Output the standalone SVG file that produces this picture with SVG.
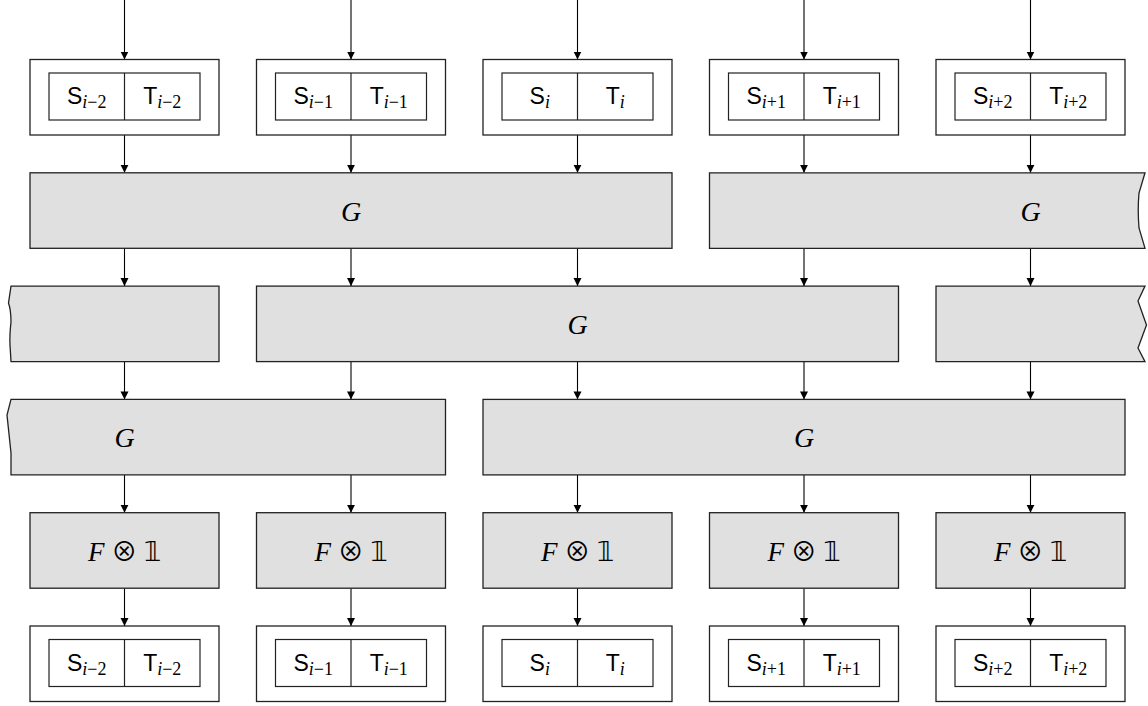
<svg xmlns="http://www.w3.org/2000/svg" width="1148" height="706" viewBox="0 0 1148 706">
<style>
.out{fill:#fff;stroke:#222;stroke-width:1.3}
.in{fill:#fff;stroke:#222;stroke-width:1.2}
.g{fill:#e0e0e0;stroke:#222;stroke-width:1.3}
.st{font-family:"Liberation Sans",sans-serif;font-size:23px;fill:#000;text-anchor:middle}
.sub{font-family:"Liberation Serif",serif;font-size:18px}
.si{font-style:italic}
.m{font-family:"Liberation Serif",serif;font-style:italic;font-size:28px;fill:#000;text-anchor:middle}
.m2{font-family:"Liberation Serif",serif;font-size:27px;fill:#000;text-anchor:middle}
.ot{font-family:"Noto Sans CJK SC",sans-serif;font-size:26px}
.one{font-family:"DejaVu Sans",sans-serif;font-size:27px}
.ar{stroke:#000;stroke-width:1.1;fill:none;marker-end:url(#ah)}
</style>
<defs>
<marker id="ah" markerWidth="8" markerHeight="10" refX="8" refY="4" orient="auto" markerUnits="userSpaceOnUse">
<path d="M0,0 L8,4 L0,8 Z" fill="#000"/>
</marker>
</defs>
<g id="connectors">
<line class="ar" x1="124.5" y1="0" x2="124.5" y2="59.5"/>
<line class="ar" x1="351" y1="0" x2="351" y2="59.5"/>
<line class="ar" x1="577.5" y1="0" x2="577.5" y2="59.5"/>
<line class="ar" x1="804" y1="0" x2="804" y2="59.5"/>
<line class="ar" x1="1030.5" y1="0" x2="1030.5" y2="59.5"/>
<line class="ar" x1="124.5" y1="135" x2="124.5" y2="172.8"/>
<line class="ar" x1="351" y1="135" x2="351" y2="172.8"/>
<line class="ar" x1="577.5" y1="135" x2="577.5" y2="172.8"/>
<line class="ar" x1="804" y1="135" x2="804" y2="172.8"/>
<line class="ar" x1="1030.5" y1="135" x2="1030.5" y2="172.8"/>
<line class="ar" x1="124.5" y1="248.3" x2="124.5" y2="286.1"/>
<line class="ar" x1="351" y1="248.3" x2="351" y2="286.1"/>
<line class="ar" x1="577.5" y1="248.3" x2="577.5" y2="286.1"/>
<line class="ar" x1="804" y1="248.3" x2="804" y2="286.1"/>
<line class="ar" x1="1030.5" y1="248.3" x2="1030.5" y2="286.1"/>
<line class="ar" x1="124.5" y1="361.6" x2="124.5" y2="399.4"/>
<line class="ar" x1="351" y1="361.6" x2="351" y2="399.4"/>
<line class="ar" x1="577.5" y1="361.6" x2="577.5" y2="399.4"/>
<line class="ar" x1="804" y1="361.6" x2="804" y2="399.4"/>
<line class="ar" x1="1030.5" y1="361.6" x2="1030.5" y2="399.4"/>
<line class="ar" x1="124.5" y1="474.9" x2="124.5" y2="512.7"/>
<line class="ar" x1="351" y1="474.9" x2="351" y2="512.7"/>
<line class="ar" x1="577.5" y1="474.9" x2="577.5" y2="512.7"/>
<line class="ar" x1="804" y1="474.9" x2="804" y2="512.7"/>
<line class="ar" x1="1030.5" y1="474.9" x2="1030.5" y2="512.7"/>
<line class="ar" x1="124.5" y1="588.2" x2="124.5" y2="626"/>
<line class="ar" x1="351" y1="588.2" x2="351" y2="626"/>
<line class="ar" x1="577.5" y1="588.2" x2="577.5" y2="626"/>
<line class="ar" x1="804" y1="588.2" x2="804" y2="626"/>
<line class="ar" x1="1030.5" y1="588.2" x2="1030.5" y2="626"/>
</g>
<!-- top state boxes -->
<g id="top0"><rect class="out" x="30" y="59.5" width="189" height="75.5"/><rect class="in" x="49" y="73" width="151" height="47"/><line class="in" x1="124.5" y1="73" x2="124.5" y2="120"/>
<text class="st" x="86.75" y="104">S<tspan class="sub si" dy="4">i</tspan><tspan class="sub">−2</tspan></text>
<text class="st" x="162.25" y="104">T<tspan class="sub si" dy="4">i</tspan><tspan class="sub">−2</tspan></text></g>
<g id="top1"><rect class="out" x="256.5" y="59.5" width="189" height="75.5"/><rect class="in" x="275.5" y="73" width="151" height="47"/><line class="in" x1="351" y1="73" x2="351" y2="120"/>
<text class="st" x="313.25" y="104">S<tspan class="sub si" dy="4">i</tspan><tspan class="sub">−1</tspan></text>
<text class="st" x="388.75" y="104">T<tspan class="sub si" dy="4">i</tspan><tspan class="sub">−1</tspan></text></g>
<g id="top2"><rect class="out" x="483" y="59.5" width="189" height="75.5"/><rect class="in" x="502" y="73" width="151" height="47"/><line class="in" x1="577.5" y1="73" x2="577.5" y2="120"/>
<text class="st" x="539.75" y="104">S<tspan class="sub si" dy="4">i</tspan></text>
<text class="st" x="615.25" y="104">T<tspan class="sub si" dy="4">i</tspan></text></g>
<g id="top3"><rect class="out" x="709.5" y="59.5" width="189" height="75.5"/><rect class="in" x="728.5" y="73" width="151" height="47"/><line class="in" x1="804" y1="73" x2="804" y2="120"/>
<text class="st" x="766.25" y="104">S<tspan class="sub si" dy="4">i</tspan><tspan class="sub">+1</tspan></text>
<text class="st" x="841.75" y="104">T<tspan class="sub si" dy="4">i</tspan><tspan class="sub">+1</tspan></text></g>
<g id="top4"><rect class="out" x="936" y="59.5" width="189" height="75.5"/><rect class="in" x="955" y="73" width="151" height="47"/><line class="in" x1="1030.5" y1="73" x2="1030.5" y2="120"/>
<text class="st" x="992.75" y="104">S<tspan class="sub si" dy="4">i</tspan><tspan class="sub">+2</tspan></text>
<text class="st" x="1068.25" y="104">T<tspan class="sub si" dy="4">i</tspan><tspan class="sub">+2</tspan></text></g>
<!-- row 1 G -->
<g id="g1a"><rect class="g" x="30" y="172.8" width="642" height="75.5"/><text class="m" x="351" y="221">G</text></g>
<g id="g1b"><path class="g" d="M709.5,172.8 H1145 L1139,193 Q1137.5,210 1139,228 L1145,248.3 H709.5 Z"/><text class="m" x="1030.5" y="221">G</text></g>
<!-- row 2 G -->
<g id="g2a"><path class="g" d="M11,286.1 H219 V361.6 H11 L10,345 Q9.5,335 11,322 Q11,310 8.5,303 Z"/></g>
<g id="g2b"><rect class="g" x="256.5" y="286.1" width="642" height="75.5"/><text class="m" x="577.5" y="334">G</text></g>
<g id="g2c"><path class="g" d="M936,286.1 H1145 L1138,301 L1146.5,325 L1138,348 L1145,361.6 H936 Z"/></g>
<!-- row 3 G -->
<g id="g3a"><path class="g" d="M11,399.4 H445.5 V474.9 H11 L11,453 L7,415 Z"/><text class="m" x="124.5" y="447">G</text></g>
<g id="g3b"><rect class="g" x="483" y="399.4" width="642" height="75.5"/><text class="m" x="804" y="447">G</text></g>
<!-- F x 1 row -->
<g id="f0"><rect class="g" x="30" y="512.7" width="189" height="75.5"/><text class="m2" x="124.5" y="561"><tspan font-style="italic">F</tspan> <tspan class="ot">⊗</tspan> <tspan class="one">𝟙</tspan></text></g>
<g id="f1"><rect class="g" x="256.5" y="512.7" width="189" height="75.5"/><text class="m2" x="351" y="561"><tspan font-style="italic">F</tspan> <tspan class="ot">⊗</tspan> <tspan class="one">𝟙</tspan></text></g>
<g id="f2"><rect class="g" x="483" y="512.7" width="189" height="75.5"/><text class="m2" x="577.5" y="561"><tspan font-style="italic">F</tspan> <tspan class="ot">⊗</tspan> <tspan class="one">𝟙</tspan></text></g>
<g id="f3"><rect class="g" x="709.5" y="512.7" width="189" height="75.5"/><text class="m2" x="804" y="561"><tspan font-style="italic">F</tspan> <tspan class="ot">⊗</tspan> <tspan class="one">𝟙</tspan></text></g>
<g id="f4"><rect class="g" x="936" y="512.7" width="189" height="75.5"/><text class="m2" x="1030.5" y="561"><tspan font-style="italic">F</tspan> <tspan class="ot">⊗</tspan> <tspan class="one">𝟙</tspan></text></g>
<!-- bottom state boxes -->
<g id="bot0"><rect class="out" x="30" y="626" width="189" height="75.5"/><rect class="in" x="49" y="639.5" width="151" height="47"/><line class="in" x1="124.5" y1="639.5" x2="124.5" y2="686.5"/>
<text class="st" x="86.75" y="670.5">S<tspan class="sub si" dy="4">i</tspan><tspan class="sub">−2</tspan></text>
<text class="st" x="162.25" y="670.5">T<tspan class="sub si" dy="4">i</tspan><tspan class="sub">−2</tspan></text></g>
<g id="bot1"><rect class="out" x="256.5" y="626" width="189" height="75.5"/><rect class="in" x="275.5" y="639.5" width="151" height="47"/><line class="in" x1="351" y1="639.5" x2="351" y2="686.5"/>
<text class="st" x="313.25" y="670.5">S<tspan class="sub si" dy="4">i</tspan><tspan class="sub">−1</tspan></text>
<text class="st" x="388.75" y="670.5">T<tspan class="sub si" dy="4">i</tspan><tspan class="sub">−1</tspan></text></g>
<g id="bot2"><rect class="out" x="483" y="626" width="189" height="75.5"/><rect class="in" x="502" y="639.5" width="151" height="47"/><line class="in" x1="577.5" y1="639.5" x2="577.5" y2="686.5"/>
<text class="st" x="539.75" y="670.5">S<tspan class="sub si" dy="4">i</tspan></text>
<text class="st" x="615.25" y="670.5">T<tspan class="sub si" dy="4">i</tspan></text></g>
<g id="bot3"><rect class="out" x="709.5" y="626" width="189" height="75.5"/><rect class="in" x="728.5" y="639.5" width="151" height="47"/><line class="in" x1="804" y1="639.5" x2="804" y2="686.5"/>
<text class="st" x="766.25" y="670.5">S<tspan class="sub si" dy="4">i</tspan><tspan class="sub">+1</tspan></text>
<text class="st" x="841.75" y="670.5">T<tspan class="sub si" dy="4">i</tspan><tspan class="sub">+1</tspan></text></g>
<g id="bot4"><rect class="out" x="936" y="626" width="189" height="75.5"/><rect class="in" x="955" y="639.5" width="151" height="47"/><line class="in" x1="1030.5" y1="639.5" x2="1030.5" y2="686.5"/>
<text class="st" x="992.75" y="670.5">S<tspan class="sub si" dy="4">i</tspan><tspan class="sub">+2</tspan></text>
<text class="st" x="1068.25" y="670.5">T<tspan class="sub si" dy="4">i</tspan><tspan class="sub">+2</tspan></text></g>
</svg>
